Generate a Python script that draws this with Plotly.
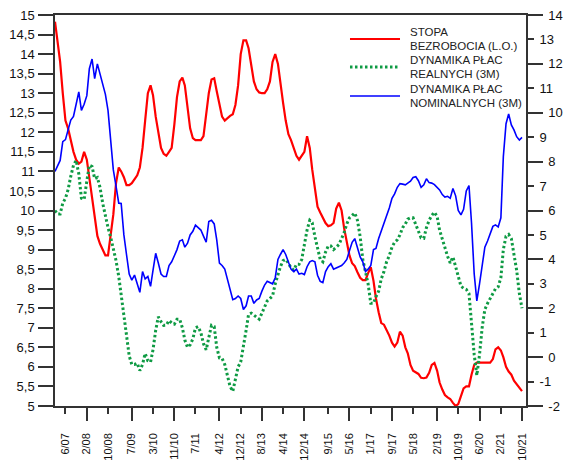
import pandas as pd
import plotly.graph_objects as go

START = "2007-02-01"
N_MONTHS = 177

unemployment = [
    14.83, 14.3, 13.8, 13.0, 12.3, 12.1, 11.8, 11.5, 11.3, 11.2,
    11.25, 11.5, 11.3, 10.8, 10.3, 9.75, 9.35, 9.15, 9.0, 8.85,
    8.85, 9.45, 9.9, 10.7, 11.1, 11.0, 10.85, 10.65, 10.65, 10.7,
    10.8, 10.9, 11.1, 11.6, 12.3, 13.0, 13.2, 12.95, 12.4, 12.0,
    11.6, 11.45, 11.4, 11.5, 11.6, 12.2, 12.9, 13.3, 13.4, 13.2,
    12.6, 12.1, 11.85, 11.8, 11.8, 11.8, 11.9, 12.4, 13.0, 13.35,
    13.38, 13.05, 12.7, 12.4, 12.3, 12.37, 12.42, 12.46, 12.7, 13.2,
    14.0, 14.35, 14.35, 14.15, 13.7, 13.3, 13.1, 13.02, 13.0, 13.0,
    13.1, 13.3, 13.8, 14.0, 13.75, 13.2, 12.75, 12.3, 11.95, 11.8,
    11.6, 11.4, 11.3, 11.42, 11.5, 11.9, 11.6, 11.05, 10.55, 10.1,
    9.95, 9.8, 9.68, 9.6, 9.62, 9.68, 10.05, 10.2, 10.0, 9.55,
    9.2, 8.85, 8.65, 8.58, 8.42, 8.28, 8.22, 8.22, 8.4, 8.55,
    8.2, 7.75, 7.4, 7.12, 7.08, 6.95, 6.8, 6.62, 6.52, 6.62,
    6.9, 6.8, 6.5, 6.35, 6.05, 5.9, 5.86, 5.82, 5.72, 5.71,
    5.73, 5.85, 6.05, 6.1, 5.9, 5.6, 5.42, 5.28, 5.22, 5.18,
    5.08, 5.0, 5.05, 5.25, 5.45, 5.5, 5.5, 5.8, 6.05, 6.11,
    6.11, 6.11, 6.11, 6.11, 6.11, 6.2, 6.45, 6.5, 6.42, 6.25,
    6.0, 5.88, 5.8, 5.65, 5.55, 5.45, 5.38,
]

real_wages = [
    6.0, 5.86, 5.86, 6.3, 6.5, 6.85, 7.4, 7.85, 8.05, 7.5,
    6.5, 6.45, 7.2, 7.85, 7.8, 7.3, 7.35, 6.95, 6.3, 5.75,
    5.3, 4.9, 4.45, 3.95, 3.3, 2.6, 1.8, 0.9, 0.05, -0.3,
    -0.3, -0.25, -0.55, -0.3, 0.15, -0.15, -0.2, 0.3, 1.1, 1.65,
    1.45, 1.3, 1.31, 1.5, 1.4, 1.35, 1.55, 1.55, 1.2, 0.7,
    0.4, 0.5, 0.75, 1.2, 1.25, 1.0, 0.55, 0.3, 0.8, 1.3,
    1.25, 0.4, -0.03, -0.05, -0.3, -0.8, -1.2, -1.4, -0.9, -0.4,
    -0.2, 0.55, 1.1, 1.75, 1.8, 1.72, 1.65, 1.55, 1.8, 2.05,
    2.3, 2.4, 2.5, 3.0, 3.4, 3.7, 3.95, 4.0, 3.85, 3.65,
    3.56, 3.8, 3.8, 4.0, 4.6, 5.2, 5.6, 5.5, 4.93, 4.4,
    4.0, 3.9, 4.3, 4.55, 4.55, 4.4, 4.5, 4.6, 4.85, 5.1,
    5.45, 5.7, 5.8, 5.9, 5.6, 4.93, 4.0, 3.5, 3.0, 2.2,
    2.2, 2.47, 2.7, 3.2, 3.5, 3.9, 4.15, 4.5, 4.7, 4.8,
    5.0, 5.3, 5.45, 5.65, 5.7, 5.7, 5.4, 5.1, 4.88, 4.86,
    5.3, 5.6, 5.8, 5.93, 5.75, 5.2, 4.8, 4.5, 4.12, 3.85,
    4.1, 3.7, 3.35, 2.9, 2.82, 2.77, 2.6, 1.3, 0.1, -0.75,
    0.1, 1.2, 1.95, 2.2, 2.4, 2.65, 2.8, 2.88, 3.25, 4.4,
    4.95, 5.02, 4.85, 4.2, 3.55, 2.6, 2.0,
]

nominal_wages = [
    7.6, 7.8, 8.05, 8.82, 8.9, 9.3, 9.7, 9.85, 10.4, 10.85,
    10.1, 10.35, 10.7, 11.8, 12.2, 11.4, 12.0, 11.55, 11.15, 10.75,
    10.1, 9.0, 7.66, 7.0, 6.3, 6.29, 5.0, 4.2, 3.4, 3.15,
    3.36, 3.0, 2.65, 3.5, 3.2, 3.3, 2.9, 3.55, 4.25, 3.85,
    3.4, 3.3, 3.3, 3.75, 3.9, 4.15, 4.4, 4.75, 4.8, 4.5,
    4.66, 5.0, 5.15, 5.4, 5.3, 5.2, 4.95, 4.7, 5.55, 5.6,
    5.45, 4.8, 3.85, 3.75, 3.6, 3.2, 2.8, 2.35, 2.4, 2.5,
    2.4, 1.95, 2.1, 2.5, 2.5, 2.2, 2.34, 2.4, 2.7, 2.95,
    3.1, 3.05, 3.0, 3.25, 4.0, 4.2, 4.4, 4.2, 3.9, 3.6,
    3.5, 3.6, 3.4, 3.43, 3.38, 3.7, 3.9, 3.95, 3.9, 3.35,
    3.1, 3.05, 3.5, 3.7, 3.82, 3.6, 3.65, 3.7, 3.75, 3.85,
    4.0, 4.35, 4.7, 4.85, 4.5, 4.1, 3.9, 3.5, 3.6, 3.75,
    4.4, 4.45, 4.85, 5.15, 5.45, 5.75, 6.1, 6.5, 6.68, 6.95,
    7.1, 7.08, 7.05, 7.12, 7.2, 7.35, 7.38, 7.22, 6.95, 7.05,
    7.3, 7.14, 7.12, 7.06, 6.95, 6.84, 6.65, 6.55, 6.58, 6.5,
    6.9, 6.6, 6.0, 5.82, 6.05, 6.8, 7.02, 5.5, 3.4, 2.3,
    3.0, 3.8, 4.5, 4.75, 5.05, 5.35, 5.41, 5.33, 5.7, 8.2,
    9.55, 9.95, 9.5, 9.3, 9.02, 8.88, 8.99,
]

x_tick_labels = ["6/07", "2/08", "10/08", "7/09", "3/10", "11/10", "7/11", "4/12",
                 "12/12", "8/13", "4/14", "12/14", "9/15", "5/16", "1/17", "9/17",
                 "5/18", "2/19", "10/19", "6/20", "2/21", "10/21"]
left_ticks = [5 + 0.5 * i for i in range(21)]
right_ticks = list(range(-2, 15))

legend_labels = [
    ["STOPA", "BEZROBOCIA (L.O.)"],
    ["DYNAMIKA PŁAC", "REALNYCH (3M)"],
    ["DYNAMIKA PŁAC", "NOMINALNYCH (3M)"],
]

RED = "#FF0000"
GREEN = "#0E9A43"
BLUE = "#0000FF"
AX = "#333333"
FONT = "Liberation Sans, Arial, sans-serif"

months = pd.date_range(START, periods=N_MONTHS, freq="MS")


def lbl_to_date(s):
    m, y = s.split("/")
    return pd.Timestamp(year=2000 + int(y), month=int(m), day=1)


def fmt_left(v):
    return (f"{v:g}").replace(".", ",")


tick_dates = [lbl_to_date(s) for s in x_tick_labels]
long_ticks = [d for i, d in enumerate(tick_dates) if i % 2 == 1]
right_even = [v for v in right_ticks if v % 2 == 0]
right_odd = [v for v in right_ticks if v % 2 != 0]

fig = go.Figure()
fig.add_trace(go.Scatter(x=months, y=unemployment, mode="lines",
                         line=dict(color=RED, width=2.2), yaxis="y", showlegend=False))
fig.add_trace(go.Scatter(x=months, y=real_wages, mode="lines",
                         line=dict(color=GREEN, width=3, dash="2.5px,2.5px"),
                         yaxis="y2", showlegend=False))
fig.add_trace(go.Scatter(x=months, y=nominal_wages, mode="lines",
                         line=dict(color=BLUE, width=1.6), yaxis="y2", showlegend=False))
# invisible helper traces so the tick-only overlay axes are drawn
fig.add_trace(go.Scatter(x=[months[0]], y=[0], mode="markers", opacity=0,
                         xaxis="x2", yaxis="y", showlegend=False, hoverinfo="skip"))
fig.add_trace(go.Scatter(x=[months[0]], y=[1], mode="markers", opacity=0,
                         yaxis="y3", showlegend=False, hoverinfo="skip"))

xrange = ["2007-02-01", "2021-11-16"]
tickfont = dict(family=FONT, size=13, color="#111111")

fig.update_layout(
    width=564, height=463,
    margin=dict(l=55, r=38, t=15, b=57, autoexpand=False),
    paper_bgcolor="white", plot_bgcolor="white",
    font=dict(family=FONT, size=11, color="#111111"),
    xaxis=dict(
        type="date", range=xrange, tickmode="array", automargin=False,
        tickvals=tick_dates, ticktext=x_tick_labels, tickangle=-90,
        ticks="outside", ticklen=6, tickwidth=1.5, tickcolor=AX,
        showline=True, linecolor=AX, linewidth=1.5, mirror=True,
        showgrid=False, zeroline=False,
        tickfont=dict(family=FONT, size=11, color="#111111"),
        ticklabelstandoff=15,
    ),
    xaxis2=dict(
        type="date", range=xrange, overlaying="x", anchor="y", side="bottom",
        automargin=False,
        tickmode="array", tickvals=long_ticks, showticklabels=False,
        ticks="outside", ticklen=14, tickwidth=1.5, tickcolor=AX,
        showline=False, showgrid=False, zeroline=False,
    ),
    yaxis=dict(
        range=[5, 15], tickmode="array", tickvals=left_ticks, automargin=False,
        ticktext=[fmt_left(v) for v in left_ticks],
        ticks="outside", ticklen=15, tickwidth=1.5, tickcolor=AX,
        showline=True, linecolor=AX, linewidth=1.5,
        showgrid=False, zeroline=False, tickfont=tickfont,
        ticklabelstandoff=1,
    ),
    yaxis2=dict(
        range=[-2, 14], overlaying="y", side="right", anchor="x", automargin=False,
        tickmode="array", tickvals=right_even, ticktext=[str(v) for v in right_even],
        ticks="outside", ticklen=15, tickwidth=1.5, tickcolor=AX,
        showline=True, linecolor=AX, linewidth=1.5,
        showgrid=False, zeroline=False, tickfont=tickfont,
        ticklabelstandoff=3,
    ),
    yaxis3=dict(
        range=[-2, 14], overlaying="y", side="right", anchor="x", automargin=False,
        tickmode="array", tickvals=right_odd, ticktext=[str(v) for v in right_odd],
        ticks="outside", ticklen=7, tickwidth=1.5, tickcolor=AX,
        showline=False, showgrid=False, zeroline=False, tickfont=tickfont,
        ticklabelstandoff=3,
    ),
)

# custom legend (line samples + two-line labels)
legend_styles = [dict(color=RED, width=2.2),
                 dict(color=GREEN, width=3, dash="2.5px,2.5px"),
                 dict(color=BLUE, width=1.6)]
sample_y = [0.9386, 0.867, 0.7928]
for i, (lines, style) in enumerate(zip(legend_labels, legend_styles)):
    fig.add_shape(type="line", xref="paper", yref="paper",
                  x0=0.6263, x1=0.7325, y0=sample_y[i], y1=sample_y[i], line=style)
    for j, txt in enumerate(lines):
        fig.add_annotation(xref="paper", yref="paper", x=0.7516,
                           y=sample_y[i] + (0.0168 if j == 0 else -0.0168),
                           text=txt, showarrow=False, xanchor="left", yanchor="middle",
                           borderpad=0,
                           font=dict(family=FONT, size=11.5, color="#222222"))

fig.write_html("out.html", config={"displayModeBar": False},
               post_script="document.body.style.margin='0';document.body.style.overflow='hidden';")
